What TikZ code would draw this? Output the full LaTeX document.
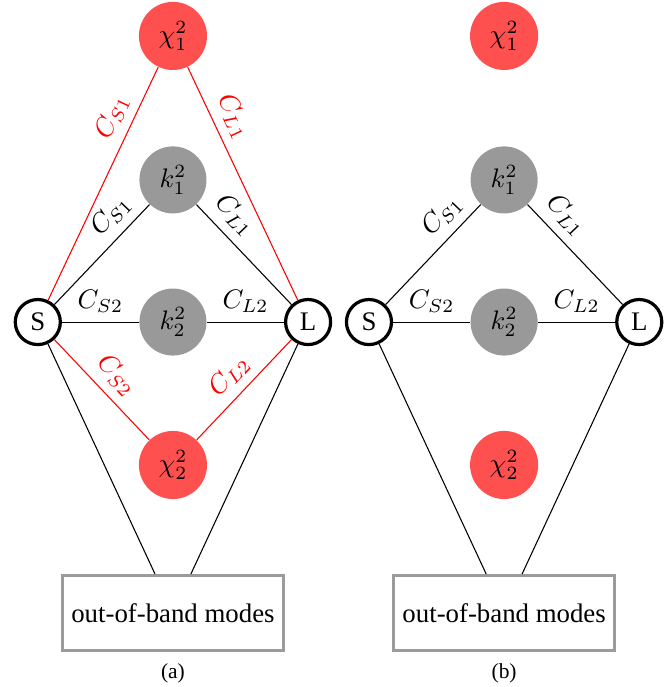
\documentclass[tikz,border=0pt]{standalone}
\usepackage[no-math]{fontspec}
\setmainfont{Liberation Serif}
\usepackage{amsmath}
\usetikzlibrary{positioning}
\definecolor{chired}{RGB}{255,80,80}
\definecolor{modegray}{RGB}{153,153,153}
\definecolor{boxgray}{RGB}{155,155,155}
\tikzset{port node/.style={circle, draw, very thick, fill=white, minimum size=16.8pt, inner sep=0pt},
	mode node/.style={circle, fill=modegray, minimum size=25pt, inner sep=0pt},
	chi node/.style={circle, fill=chired, minimum size=25.4pt, inner sep=0pt},
	band node/.style={rectangle, draw=boxgray, line width=1.1pt, minimum width=82.4pt, minimum height=28pt},}

\begin{document}
\begin{tikzpicture}[thin, on grid]
	\useasboundingbox (-64.5pt,-136.1pt) rectangle (185.8pt,120.1pt);
	% Panel (a)
	\node[mode node] (k2a) {$k_2^2$};
	\node[port node] [left = 50.4pt of k2a] (Sa) {S};
	\node[port node] [right = 50.4pt of k2a] (La) {L};
	\node[mode node] [above = 53pt of k2a] (k1a) {$k_1^2$};
	\node[chi node] [above = 106.7pt of k2a] (x1a) {$\chi_1^2$};
	\node[chi node] [below = 53.3pt of k2a] (x2a) {$\chi_2^2$};
	\node[band node] [below = 108.5pt of k2a] (ba) {out-of-band modes};
	\node [below = 131pt of k2a] (capa) {\footnotesize (a)};
	\coordinate (bal) at ([xshift=-6.7pt]ba.north);
	\coordinate (bar) at ([xshift=6.7pt]ba.north);
	% Panel (b)
	\node[mode node] [right = 123.5pt of k2a] (k2b) {$k_2^2$};
	\node[port node] [left = 50.4pt of k2b] (Sb) {S};
	\node[port node] [right = 50.4pt of k2b] (Lb) {L};
	\node[mode node] [above = 53pt of k2b] (k1b) {$k_1^2$};
	\node[chi node] [above = 106.7pt of k2b] (x1b) {$\chi_1^2$};
	\node[chi node] [below = 53.3pt of k2b] (x2b) {$\chi_2^2$};
	\node[band node] [below = 108.5pt of k2b] (bb) {out-of-band modes};
	\node [below = 131pt of k2b] (capb) {\footnotesize (b)};
	\coordinate (bbl) at ([xshift=-6.7pt]bb.north);
	\coordinate (bbr) at ([xshift=6.7pt]bb.north);
	% Couplings (a)
	\path[draw]
	(Sa) edge node [above, sloped, pos=0.75] {$C_{S1}$} (k1a)
	(k1a) edge node [above, sloped, pos=0.25] {$C_{L1}$} (La)
	(Sa) edge node [above] {$C_{S2}$} (k2a)
	(k2a) edge node [above] {$C_{L2}$} (La)
	(Sa) edge (bal)
	(La) edge (bar);
	\path[draw, red]
	(Sa) edge node [above, sloped, pos=0.75] {$C_{S1}$} (x1a)
	(x1a) edge node [above, sloped, pos=0.25] {$C_{L1}$} (La)
	(Sa) edge node [above, sloped] {$C_{S2}$} (x2a)
	(x2a) edge node [above, sloped] {$C_{L2}$} (La);
	% Couplings (b)
	\path[draw]
	(Sb) edge node [above, sloped, pos=0.75] {$C_{S1}$} (k1b)
	(k1b) edge node [above, sloped, pos=0.25] {$C_{L1}$} (Lb)
	(Sb) edge node [above] {$C_{S2}$} (k2b)
	(k2b) edge node [above] {$C_{L2}$} (Lb)
	(Sb) edge (bbl)
	(Lb) edge (bbr);
\end{tikzpicture}
\end{document}
